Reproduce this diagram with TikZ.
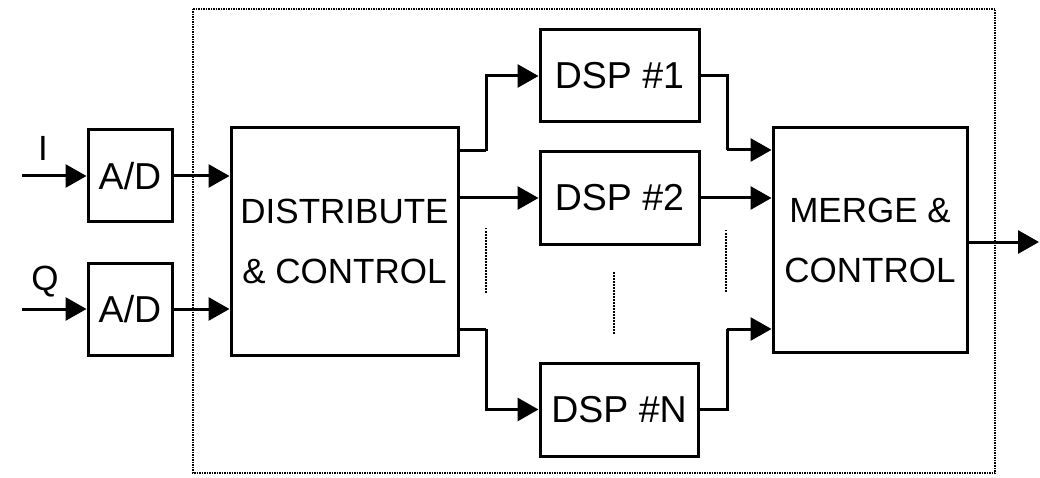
\documentclass[tikz,border=0pt]{standalone}
\usepackage{fontspec}
\setmainfont{Liberation Sans}
\usetikzlibrary{arrows.meta}
\tikzset{
  blk/.style={draw, line width=3pt, inner sep=0pt, align=center,
    font=\fontsize{35}{60}\selectfont},
  big/.style={font=\fontsize{37.5}{60}\selectfont},
  arr/.style={line width=3pt, -{Triangle[length=21pt,width=23pt]}},
  wire/.style={line width=3pt},
  frame/.style={line width=1.6pt, dash pattern=on 1.5pt off 1pt},
  gap/.style={line width=1.2pt, dash pattern=on 1.5pt off 1.5pt},
  sig/.style={font=\fontsize{35}{40}\selectfont, inner sep=0pt}
}
\begin{document}
\begin{tikzpicture}[x=1pt,y=-1pt]
\useasboundingbox (0,0) rectangle (1040,478);
% processing frame
\draw[frame] (193,9) rectangle (995,473);
% blocks
\node[blk, big, minimum width=84pt, minimum height=92pt] (ad1) at (130,176) {A/D};
\node[blk, big, minimum width=84pt, minimum height=92pt] (ad2) at (130,309) {A/D};
\node[blk, minimum width=227pt, minimum height=227pt] (dist) at (344.5,241.5) {DISTRIBUTE\\\& CONTROL};
\node[blk, big, minimum width=159pt, minimum height=92pt] (dsp1) at (619.5,76) {DSP \#1};
\node[blk, big, minimum width=159pt, minimum height=92pt] (dsp2) at (619.5,198) {DSP \#2};
\node[blk, big, minimum width=158pt, minimum height=93pt] (dspn) at (619,409.5) {DSP \#N};
\node[blk, minimum width=194pt, minimum height=224pt] (merge) at (870,240) {MERGE \&\\CONTROL};
% input labels
\node[sig] (lI) at (43,148) {I};
\node[sig] (lQ) at (45,282) {Q};
% routing points
\coordinate (inI) at (22,176);
\coordinate (inQ) at (22,309);
\coordinate (out) at (1039,242);
\coordinate (d1) at (486,151);
\coordinate (dn) at (486,329);
\coordinate (m1) at (727,150);
\coordinate (mn) at (727,329);
% inputs
\draw[arr] (inI) -- (ad1.west |- inI);
\draw[arr] (inQ) -- (ad2.west |- inQ);
\draw[arr] (ad1.east) -- (dist.west |- ad1.east);
\draw[arr] (ad2.east) -- (dist.west |- ad2.east);
% distribution
\draw[wire] (dist.east |- d1) -- (d1);
\draw[arr] (d1) |- (dsp1.west);
\draw[arr] (dist.east |- dsp2.west) -- (dsp2.west);
\draw[wire] (dist.east |- dn) -- (dn);
\draw[arr] (dn) |- (dspn.west);
% merging
\draw[wire] (dsp1.east) -| (m1);
\draw[arr] (m1) -- (merge.west |- m1);
\draw[arr] (dsp2.east) -- (merge.west |- dsp2.east);
\draw[wire] (dspn.east) -| (mn);
\draw[arr] (mn) -- (merge.west |- mn);
\draw[arr] (merge.east |- out) -- (out);
% continuation marks between DSP #2 and DSP #N
\draw[gap] (486,228) -- (486,293);
\draw[gap] (614,272) -- (614,335);
\draw[gap] (726,230) -- (726,293);
\end{tikzpicture}
\end{document}
